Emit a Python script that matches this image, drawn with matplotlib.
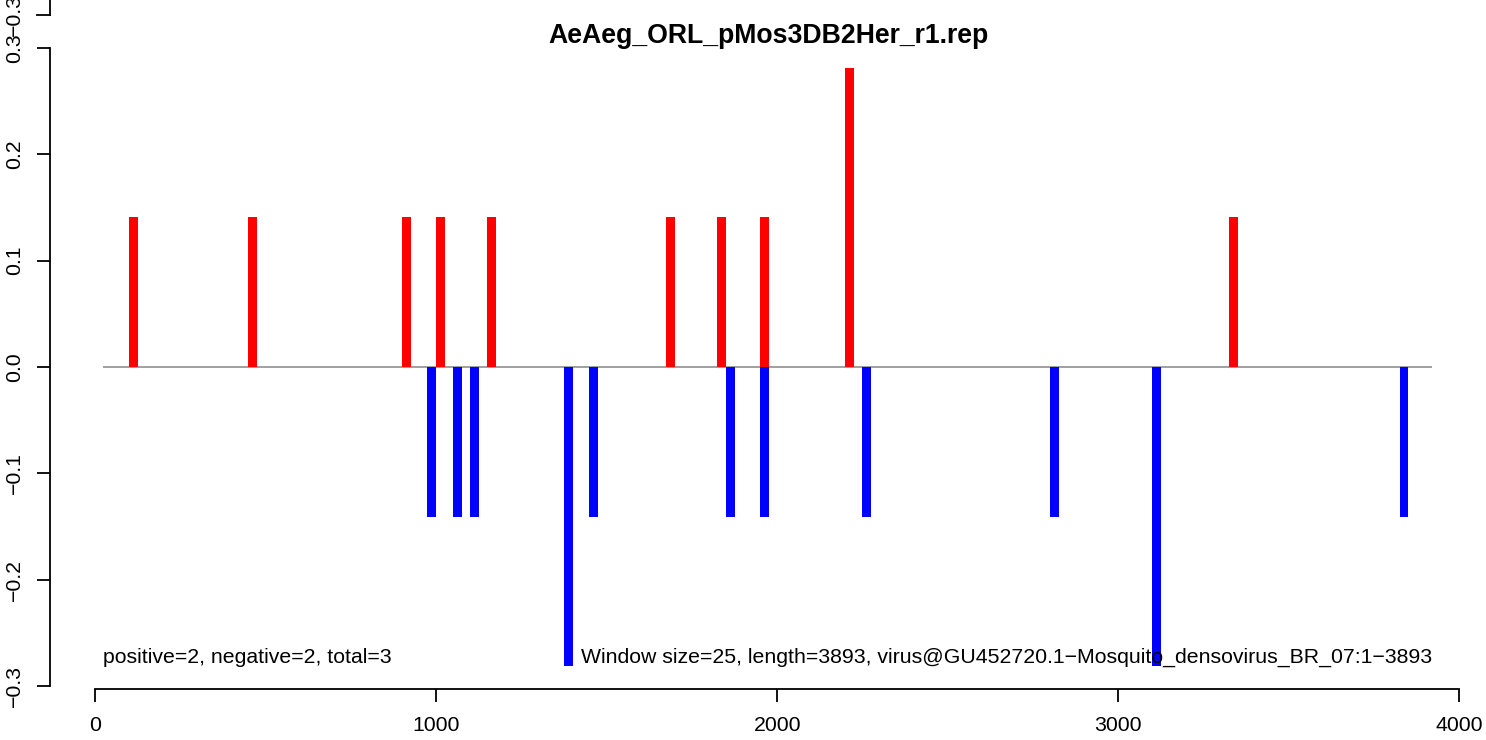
import numpy as np
import matplotlib
matplotlib.use("Agg")
import matplotlib.pyplot as plt
import matplotlib.transforms as mtransforms

# window centres and scaled counts
pos_x = [112.5, 462.5, 912.5, 1012.5, 1162.5, 1687.5, 1837.5, 1962.5, 2212.5, 3337.5]
pos_y = [0.141, 0.141, 0.141, 0.141, 0.141, 0.141, 0.141, 0.141, 0.281, 0.141]
neg_x = [987.5, 1062.5, 1112.5, 1387.5, 1462.5, 1862.5, 1962.5, 2262.5, 2812.5, 3112.5, 3837.5]
neg_y = [-0.141, -0.141, -0.141, -0.281, -0.141, -0.141, -0.141, -0.141, -0.141, -0.281, -0.141]

window = 25
title = "AeAeg_ORL_pMos3DB2Her_r1.rep"
left_note = "positive=2, negative=2, total=3"
right_note = "Window size=25, length=3893, virus@GU452720.1\u2212Mosquito_densovirus_BR_07:1\u22123893"
xticks = [0, 1000, 2000, 3000, 4000]
yticks = [-0.3, -0.2, -0.1, 0.0, 0.1, 0.2, 0.3]

plt.rcParams['font.family'] = ['Liberation Sans', 'DejaVu Sans']
fs = 15.3

W, H = 1486, 740
fig = plt.figure(figsize=(W / 100, H / 100), dpi=100)
ax = fig.add_axes([50 / W, 51 / H, 1 - 50 / W, 1 - 51 / H])

ax.hlines(0, 24, 3920, color="#999999", lw=1.3, zorder=1)
ax.bar(pos_x, pos_y, width=window + 1, color="red", zorder=2)
ax.bar(neg_x, neg_y, width=window + 1, color="blue", zorder=2)

ax.set_xlim(-132, 4078)
ax.set_ylim(-0.3028, 0.345)

for s in ["top", "right"]:
    ax.spines[s].set_visible(False)
ax.spines["left"].set_bounds(-0.3, 0.3)
ax.spines["bottom"].set_bounds(0, 4000)
for s in ["left", "bottom"]:
    ax.spines[s].set_linewidth(1.3)

ax.set_xticks(xticks)
ax.set_xticklabels([str(v) for v in xticks])
ax.set_yticks(yticks)
ax.set_yticklabels([f"{v:.1f}".replace("-", "\u2212") for v in yticks],
                   rotation=90, va="center")
ax.tick_params(axis="both", direction="out", length=9.4, width=1.3,
               labelsize=fs)
ax.tick_params(axis="x", pad=10)
ax.tick_params(axis="y", pad=9)

# leftover axis stub at the top (from an overlaid plot)
trans = mtransforms.blended_transform_factory(ax.transAxes, ax.transData)
stub = 0.331
ax.plot([0, 0], [stub, 0.345], transform=trans, color="black", lw=1.3, clip_on=False)
ax.plot([-13 / (W - 50), 0], [stub, stub], transform=trans, color="black", lw=1.3,
        clip_on=False)
ax.text(-36 / (W - 50), stub, "\u22120.3", transform=trans, rotation=90,
        ha="center", va="center", fontsize=fs, clip_on=False)

ax.set_title(title, fontsize=19.2, fontweight="bold", pad=0, y=1 - 33 / 689 - 0.014)

ax.text(24, -0.273, left_note, ha="left", va="center", fontsize=fs, zorder=3)
ax.text(3920, -0.273, right_note, ha="right", va="center", fontsize=fs, zorder=3)

fig.savefig("out.png", dpi=100)
